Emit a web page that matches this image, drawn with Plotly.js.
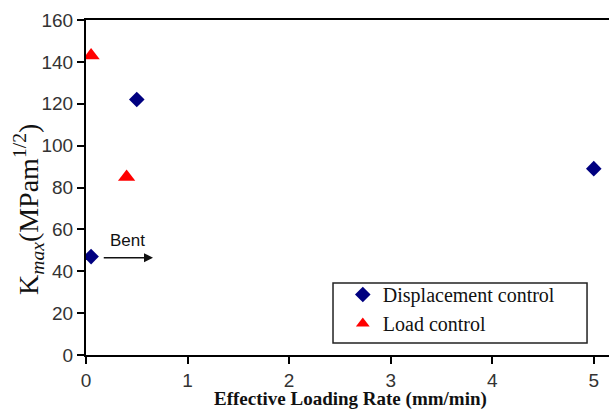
<!DOCTYPE html>
<html><head><meta charset="utf-8">
<script src="https://cdn.plot.ly/plotly-3.0.1.min.js"></script>
<style>body{margin:0;padding:0;background:#fff}#chart{width:609px;height:411px}</style>
</head><body><div id="chart"></div>
<script>
const dispX = [0.05, 0.5, 5.0];
const dispY = [47, 122, 89];
const loadX = [0.05, 0.4];
const loadY = [143, 85];
const xTicks = [0, 1, 2, 3, 4, 5];
const yTicks = [0, 20, 40, 60, 80, 100, 120, 140, 160];
const xMinorStep = 0.25;
const yMinorStep = 4;
const xRange = [0, 5.15];
const yRange = [0, 160];

const W = 609, H = 411, M = {l: 86, r: 0, t: 20, b: 56};
const plotW = W - M.l - M.r, plotH = H - M.t - M.b;

const traces = [
  {x: dispX, y: dispY, mode: 'markers', type: 'scatter', name: 'Displacement control',
   marker: {symbol: 'diamond', size: 12, color: '#000080'}},
  {x: loadX, y: loadY, mode: 'markers', type: 'scatter', name: 'Load control',
   marker: {symbol: 'triangle-up', size: 15, color: '#ff0000'}}
];

// tick marks: built from the tick arrays, drawn as an unclipped line trace
const pxX = (xRange[1] - xRange[0]) / plotW;
const pxY = (yRange[1] - yRange[0]) / plotH;
const tx = [], ty = [];
function xTick(v, len) { tx.push(v, v, null); ty.push(0, -len * pxY, null); }
function yTick(v, len) { tx.push(0, -len * pxX, null); ty.push(v, v, null); }
xTicks.forEach(v => xTick(v, 7));
for (let i = 0; i * xMinorStep <= xTicks[xTicks.length - 1]; i++) {
  const v = i * xMinorStep;
  if (!xTicks.includes(v)) xTick(v, 5);
}
yTicks.forEach(v => yTick(v, 7));
for (let i = 0; i * yMinorStep <= yTicks[yTicks.length - 1]; i++) {
  const v = i * yMinorStep;
  if (!yTicks.includes(v)) yTick(v, 5);
}
traces.push({x: tx, y: ty, type: 'scatter', mode: 'lines', line: {color: '#000', width: 2},
  cliponaxis: false, showlegend: false, hoverinfo: 'skip', connectgaps: false});

const shapes = [
  {type: 'rect', xref: 'paper', yref: 'paper', x0: 0.4723, x1: 0.958, y0: 0.0358, y1: 0.215,
   line: {color: '#222', width: 1.5}, fillcolor: 'rgba(0,0,0,0)'}
];

const layout = {
  width: W, height: H,
  margin: M,
  paper_bgcolor: '#fff', plot_bgcolor: '#fff',
  showlegend: true,
  legend: {x: 0.491, y: 0.036, xanchor: 'left', yanchor: 'bottom', bgcolor: 'rgba(0,0,0,0)',
    borderwidth: 0, font: {family: 'Liberation Serif', size: 20, color: '#111'},
    itemsizing: 'constant', tracegroupgap: 0, itemwidth: 30},
  shapes: shapes,
  xaxis: {range: xRange, tickmode: 'array', tickvals: xTicks, autorange: false,
    showline: true, linecolor: '#000', linewidth: 2, mirror: true,
    ticks: 'outside', ticklen: 7, tickwidth: 2, tickcolor: '#000', showgrid: false, zeroline: false,
    tickfont: {family: 'Liberation Sans', size: 19, color: '#333'}},
  yaxis: {range: yRange, tickmode: 'array', tickvals: yTicks, autorange: false,
    showline: true, linecolor: '#000', linewidth: 2,
    ticks: 'outside', ticklen: 7, tickwidth: 2, tickcolor: '#000', showgrid: false, zeroline: false,
    tickfont: {family: 'Liberation Sans', size: 19, color: '#333'}},
  annotations: [
    {x: 0.66, y: 46.5, xref: 'x', yref: 'y', ax: 0.16, ay: 46.5, axref: 'x', ayref: 'y',
     text: '', showarrow: true, arrowhead: 2, arrowsize: 1.2, arrowwidth: 1.5, arrowcolor: '#111'},
    {x: 0.41, y: 49, xref: 'x', yref: 'y', text: 'Bent', showarrow: false, yanchor: 'bottom',
     font: {family: 'Liberation Sans', size: 17, color: '#111'}},
    {x: (350 - M.l) / plotW, y: -(399 - (H - M.b)) / plotH, xref: 'paper', yref: 'paper',
     xanchor: 'center', yanchor: 'middle', showarrow: false,
     text: '<b>Effective Loading Rate (mm/min)</b>',
     font: {family: 'Liberation Serif', size: 19, color: '#111'}},
    {x: -(M.l - 28) / plotW, y: ((H - M.b) - 210) / plotH, xref: 'paper', yref: 'paper',
     xanchor: 'center', yanchor: 'middle', textangle: -90, showarrow: false,
     text: 'K<sub><i>max</i></sub>(MPam<sup>1/2</sup>)',
     font: {family: 'Liberation Serif', size: 28, color: '#111'}}
  ]
};
Plotly.newPlot('chart', traces, layout, {displayModeBar: false, staticPlot: true});
</script></body></html>
